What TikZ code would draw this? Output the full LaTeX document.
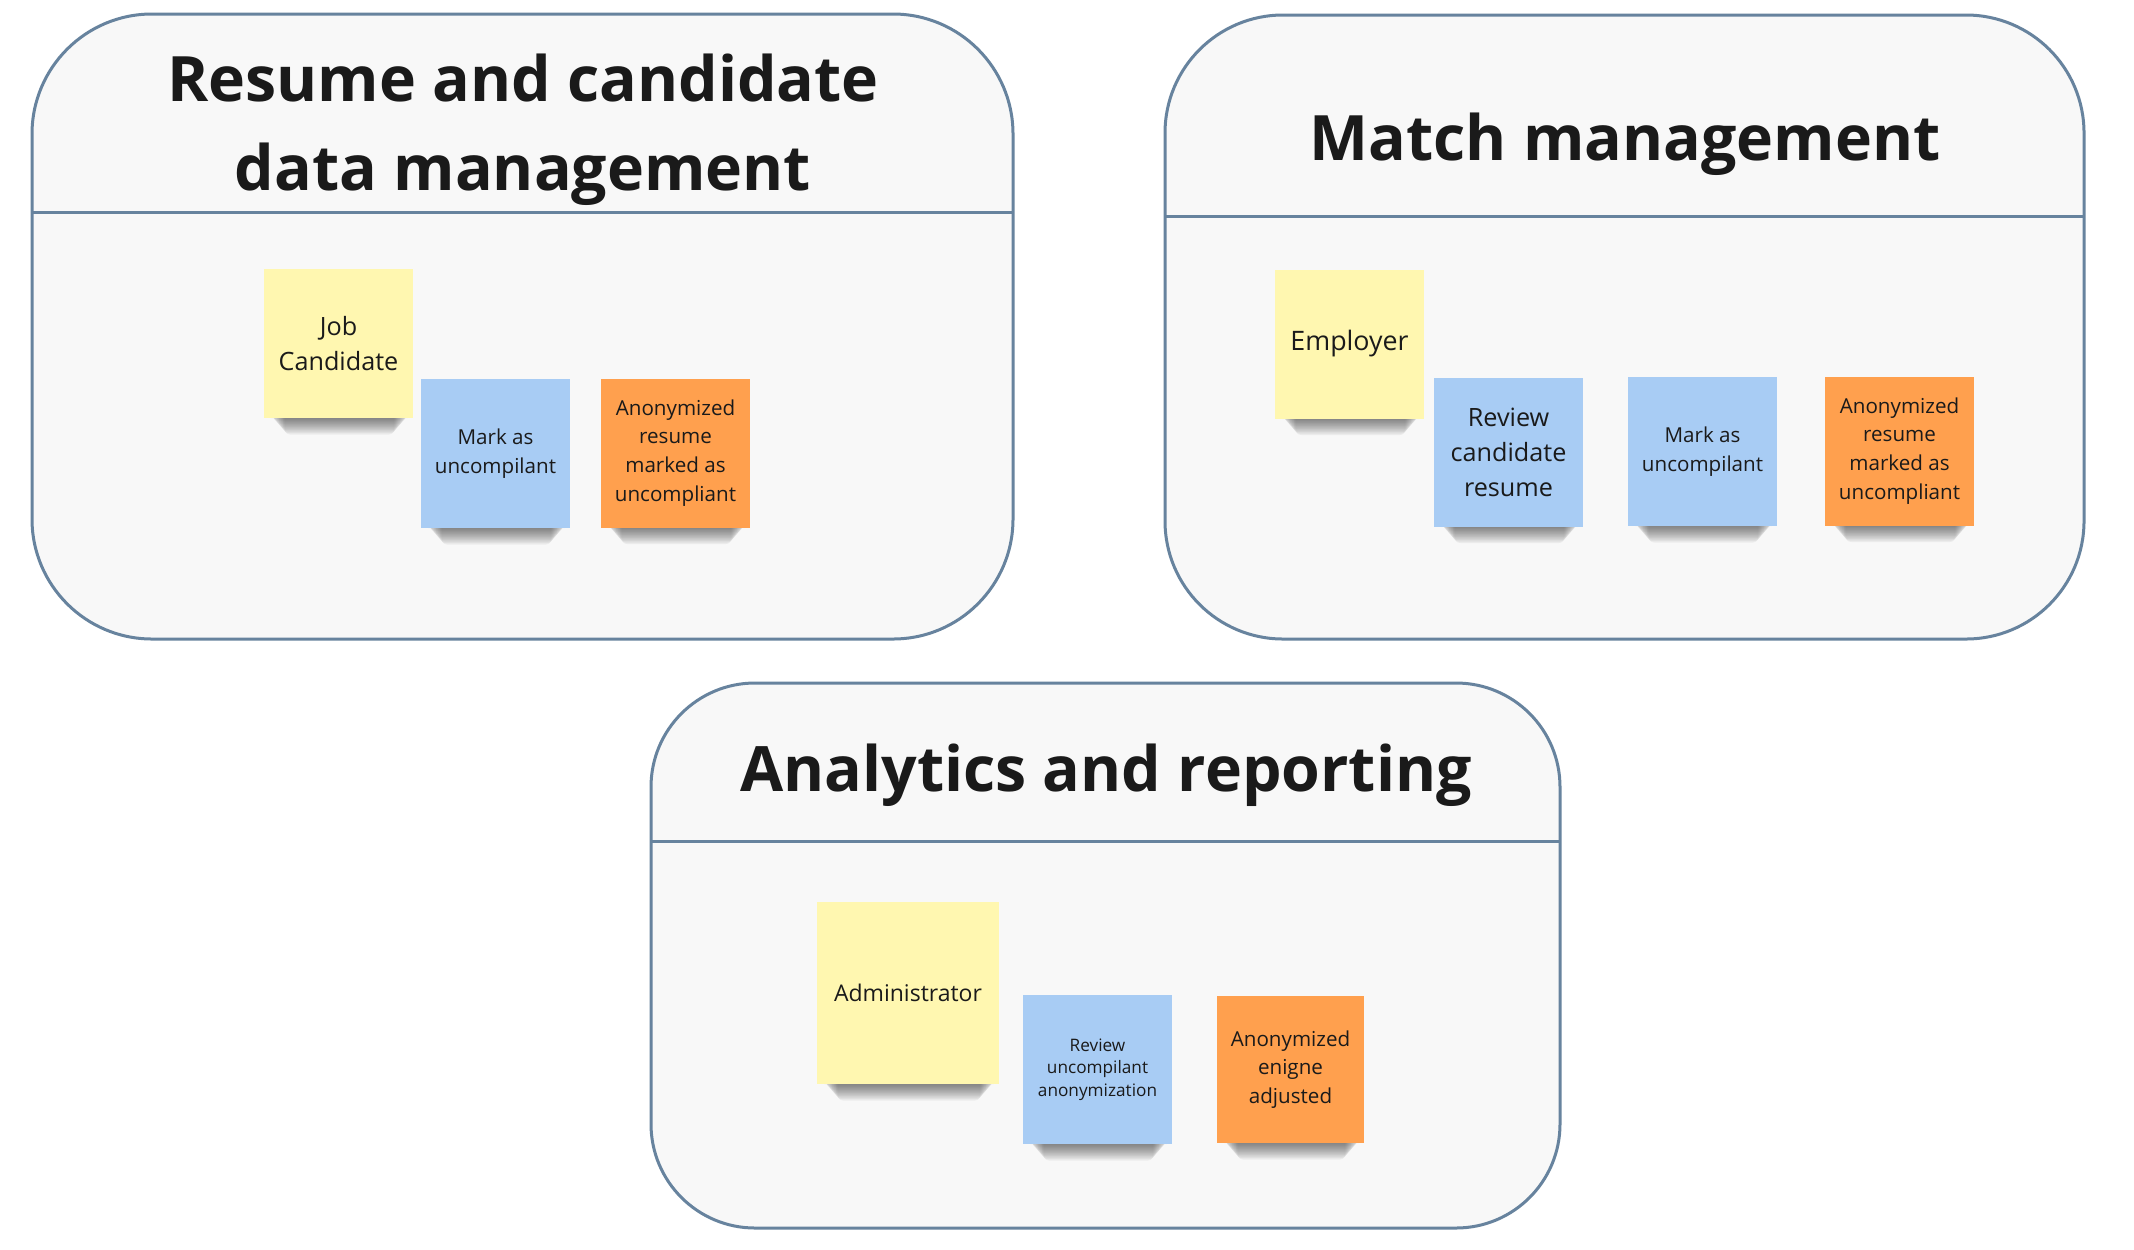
\documentclass[tikz,border=0pt]{standalone}
\usepackage{fontspec}
\setmainfont{Open Sans}
\definecolor{framec}{HTML}{67839E}
\definecolor{panelc}{HTML}{F8F8F8}
\definecolor{inkc}{HTML}{1A1A1A}
\definecolor{yellowc}{HTML}{FFF7B0}
\definecolor{bluec}{HTML}{A8CCF4}
\definecolor{orangec}{HTML}{FFA04E}
\tikzset{
  panel/.style={draw=framec, line width=1.5pt, fill=panelc, rounded corners=#1},
  headline/.style={draw=framec, line width=1.5pt},
  title/.style={text=inkc, inner sep=0pt, align=center,
    font={\fontsize{31.3pt}{44.5pt}\selectfont\bfseries}},
  note/.style={rectangle, inner sep=0pt, minimum width=74.5pt, minimum height=74.5pt,
    align=center, text=inkc},
  ynote/.style={note, fill=yellowc},
  bnote/.style={note, fill=bluec},
  onote/.style={note, fill=orangec},
  fbig/.style={font={\fontsize{12.6pt}{17.5pt}\selectfont}},
  fmid/.style={font={\fontsize{10.3pt}{14.4pt}\selectfont}},
  fsmall/.style={font={\fontsize{8.6pt}{11.3pt}\selectfont}},
  shadowpiece/.style={fill=black, opacity=0.05, rounded corners=3pt}
}
% #1,#2 = centre of the note, #3 = half its side (all in px)
\newcommand\noteshadow[3]{%
  \foreach \k in {1,...,11}{%
    \path[shadowpiece] (#1-#3+6+1.3*\k, #2+#3-5) rectangle (#1+#3-4-1.3*\k, #2+#3+1.5*\k);
  }}
\begin{document}
\begin{tikzpicture}[x=0.5pt,y=-0.5pt]
\fill[white] (0,0) rectangle (2134,1249);
\useasboundingbox (0,0) rectangle (2134,1249);

% panels
\path[panel=60pt] (32,14) rectangle (1013,639);
\path[panel=59pt] (1165,15) rectangle (2084,639);
\path[panel=52pt] (651,683) rectangle (1560,1228);
\coordinate (h1l) at (32,212);   \coordinate (h1r) at (1013,212);
\coordinate (h2l) at (1165,216); \coordinate (h2r) at (2084,216);
\coordinate (h3l) at (651,841);  \coordinate (h3r) at (1560,841);
\draw[headline] (h1l) -- (h1r);
\draw[headline] (h2l) -- (h2r);
\draw[headline] (h3l) -- (h3r);

% titles
\node[title] (t1) at (523,129.5) {Resume and candidate\\data management};
\node[title, anchor=base] (t2) at (1625,160) {Match management};
\node[title, anchor=base] (t3) at (1106,791) {Analytics and reporting};

% shadows
\noteshadow{338.5}{343.5}{74.5}
\noteshadow{495.5}{453.5}{74.5}
\noteshadow{675.5}{453}{74.5}
\noteshadow{1349.5}{344}{74.5}
\noteshadow{1508.5}{452}{74.5}
\noteshadow{1702.5}{451.5}{74.5}
\noteshadow{1899.5}{451}{74.5}
\noteshadow{908}{993}{91}
\noteshadow{1097.5}{1069.5}{74.5}
\noteshadow{1290.5}{1069.5}{73.5}

% panel 1 notes
\node[ynote, fbig] (jc) at (338.5,343.5) {Job\\Candidate};
\node[bnote, fmid] (mk1) at (495.5,453.5) {Mark as\\uncompilant};
\node[onote, fmid] (an1) at (675.5,453) {Anonymized\\resume\\marked as\\uncompliant};

% panel 2 notes
\node[ynote, font={\fontsize{13.4pt}{17.5pt}\selectfont}] (emp) at (1349.5,344) {Employer};
\node[bnote, fbig] (rev) at (1508.5,452) {Review\\candidate\\resume};
\node[bnote, fmid] (mk2) at (1702.5,451.5) {Mark as\\uncompilant};
\node[onote, fmid] (an2) at (1899.5,451) {Anonymized\\resume\\marked as\\uncompliant};

% panel 3 notes
\node[ynote, minimum width=91pt, minimum height=91pt,
      font={\fontsize{11.5pt}{16pt}\selectfont}] (adm) at (908,993) {Administrator};
\node[bnote, fsmall] (rev3) at (1097.5,1069.5) {Review\\uncompilant\\anonymization};
\node[onote, fmid, minimum width=73.5pt, minimum height=73.5pt] (an3) at (1290.5,1069.5) {Anonymized\\enigne\\adjusted};
\end{tikzpicture}
\end{document}
